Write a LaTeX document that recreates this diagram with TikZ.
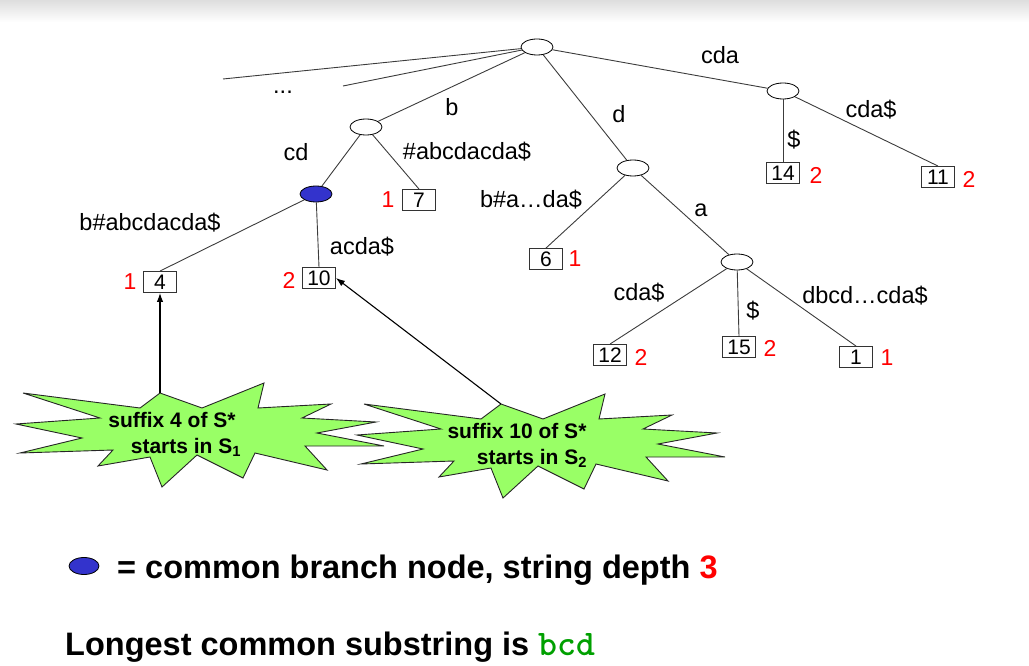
\documentclass[tikz,border=0pt]{standalone}
\usepackage{fontspec}
\setmainfont{Liberation Sans}
\usetikzlibrary{arrows.meta,shapes.geometric}
\definecolor{edgegray}{RGB}{60,60,60}
\definecolor{nodeblue}{RGB}{51,51,204}
\definecolor{stargreen}{RGB}{153,255,102}
\definecolor{bcdgreen}{RGB}{0,160,0}
\begin{document}
\begin{tikzpicture}[x=1pt,y=-1pt,
  inode/.style={ellipse, draw=black, line width=0.8pt, fill=white, minimum width=32pt, minimum height=16pt, inner sep=0pt},
  bnode/.style={inode, fill=nodeblue},
  leaf/.style={rectangle, draw=black!80, line width=0.9pt, minimum width=33pt, minimum height=21pt, inner sep=0pt, font=\fontsize{21}{21}\selectfont},
  cnt/.style={text=red, inner sep=0pt, font=\fontsize{23}{23}\selectfont},
  lbl/.style={inner sep=0pt, font=\fontsize{23.5}{23.5}\selectfont},
  edge/.style={draw=edgegray, line width=0.9pt},
  arr/.style={draw=black, line width=1.1pt, -{Latex[length=9pt,width=6.5pt]}},
  starshape/.style={draw=black!85, line width=0.9pt, fill=stargreen, line join=miter},
  startext/.style={align=center, inner sep=0pt, font=\bfseries\fontsize{21}{26}\selectfont},
  legend/.style={anchor=base west, inner sep=0pt, font=\bfseries\fontsize{32.5}{32.5}\selectfont}
]
\useasboundingbox (0,0) rectangle (1029,666);
\shade[top color=black!13, bottom color=white] (0,0) rectangle (1029,22);

% internal nodes
\node[inode] (root) at (537,47) {};
\node[inode] (nb) at (366,127) {};
\node[bnode] (blue) at (316,194) {};
\node[inode] (ncda) at (783,91) {};
\node[inode] (nd) at (633,168) {};
\node[inode] (na) at (737,262) {};

% leaves
\node[leaf] (b7) at (419,200) {7};
\node[leaf] (b4) at (160,282) {4};
\node[leaf] (b10) at (319,278) {10};
\node[leaf] (b6) at (546,259) {6};
\node[leaf] (b14) at (783,173) {14};
\node[leaf] (b11) at (938,177) {11};
\node[leaf] (b12) at (610,355) {12};
\node[leaf] (b15) at (739,347) {15};
\node[leaf] (b1) at (856,357) {1};

% counts
\node[cnt] (c7) at (388,200) {1};
\node[cnt] (c4) at (130,282) {1};
\node[cnt] (c10) at (289,280) {2};
\node[cnt] (c6) at (575,259) {1};
\node[cnt] (c14) at (816,175) {2};
\node[cnt] (c11) at (969,179) {2};
\node[cnt] (c12) at (641,357) {2};
\node[cnt] (c15) at (770,348) {2};
\node[cnt] (c1) at (887,358) {1};

% free ends of the "..." branches
\coordinate (far1) at (223,79);
\coordinate (far2) at (343,86);

% edges
\draw[edge] (root) -- (far1);
\draw[edge] (root) -- (far2);
\draw[edge] (root) -- (nb);
\draw[edge] (root) -- (nd);
\draw[edge] (root) -- (ncda);
\draw[edge] (nb) -- (blue);
\draw[edge] (nb) -- (b7.north);
\draw[edge] (blue) -- (b4.north);
\draw[edge] (blue) -- (b10.north);
\draw[edge] (nd) -- (b6.north);
\draw[edge] (nd) -- (na);
\draw[edge] (na) -- (b12.north);
\draw[edge] (na) -- (b15.north);
\draw[edge] (na) -- (b1.north);
\draw[edge] (ncda) -- (b14.north);
\draw[edge] (ncda) -- (b11.north);

% edge labels
\node[lbl, anchor=base] (ldots) at (283,94) {...};
\node[lbl] (lb) at (452,107) {b};
\node[lbl] (lcd) at (296,152) {cd};
\node[lbl] (lhash) at (467,152) {\#abcdacda\$};
\node[lbl] (lba) at (531,200) {b\#a…da\$};
\node[lbl] (lbhash) at (150,223) {b\#abcdacda\$};
\node[lbl] (lacda) at (362,247) {acda\$};
\node[lbl] (lcda) at (720,55) {cda};
\node[lbl] (ld) at (619,114) {d};
\node[lbl] (la) at (701,210) {a};
\node[lbl] (ldol1) at (794,140) {\$};
\node[lbl] (lcdad1) at (871,110) {cda\$};
\node[lbl] (lcdad2) at (639,293) {cda\$};
\node[lbl] (ldol2) at (753,311) {\$};
\node[lbl] (ldbcd) at (865,296) {dbcd…cda\$};

% starbursts
\draw[starshape] (160,393) -- (202,408) -- (264,383) -- (258,408) -- (331,404) -- (302,418) -- (376,422) -- (317,433) -- (384,446) -- (305,446) -- (327,470) -- (255,453) -- (243,478) -- (197,455) -- (162,487) -- (150,457) -- (98,466) -- (113,450) -- (20,453) -- (82,438) -- (16,424) -- (100,418) -- (23,393) -- (140,408) -- cycle;
\begin{scope}[shift={(341,11)}]
\draw[starshape] (160,393) -- (202,408) -- (264,383) -- (258,408) -- (331,404) -- (302,418) -- (376,422) -- (317,433) -- (384,446) -- (305,446) -- (327,470) -- (255,453) -- (243,478) -- (197,455) -- (162,487) -- (150,457) -- (98,466) -- (113,450) -- (20,453) -- (82,438) -- (16,424) -- (100,418) -- (23,393) -- (140,408) -- cycle;
\end{scope}
\coordinate (s1top) at (160,393);
\coordinate (s2top) at (501,404);
\node[startext] (st1) at (172,434) {suffix 4 of S*\\\hspace*{28pt}starts in S\textsubscript{1}};
\node[startext] (st2) at (517,445) {suffix 10 of S*\\\hspace*{30pt}starts in S\textsubscript{2}};

% arrows
\draw[arr] (s1top) -- (b4.south);
\draw[arr] (s2top) -- (b10.east);

% legend
\node[bnode, minimum width=30pt, minimum height=17pt] (legnode) at (84,566) {};
\node[legend] (legtext) at (117,578) {= common branch node, string depth \textcolor{red}{3}};
\node[legend] (lcs) at (65,655) {Longest common substring is \textcolor{bcdgreen}{\ttfamily\bfseries\fontsize{36}{36}\selectfont bcd}};
\end{tikzpicture}
\end{document}
